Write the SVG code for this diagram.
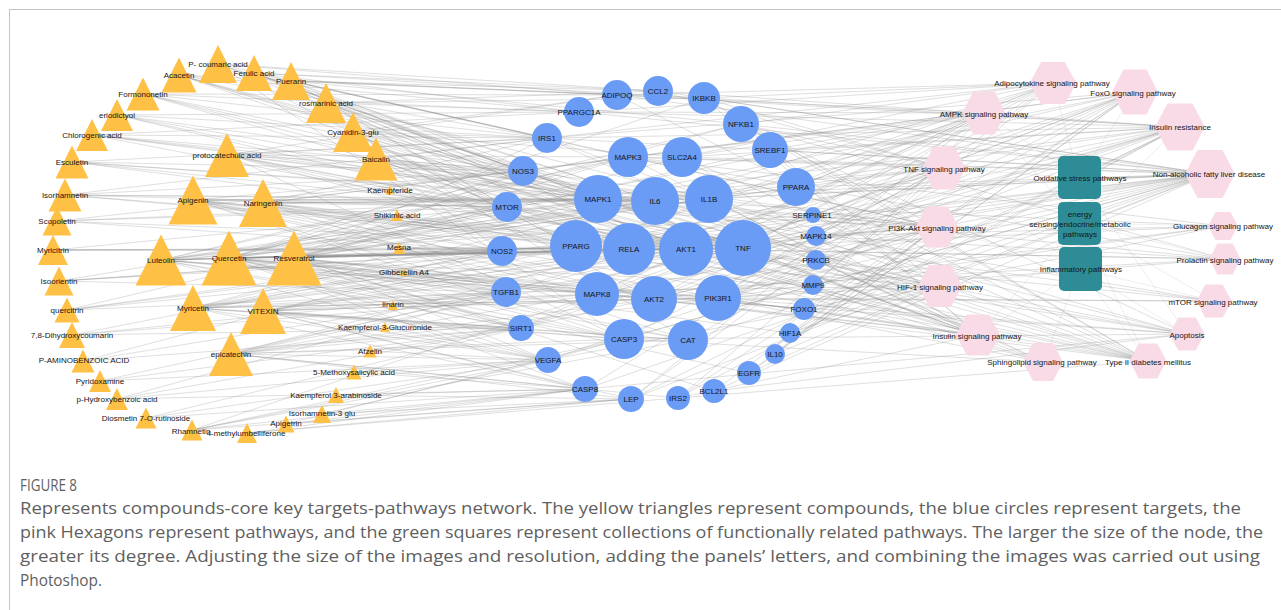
<svg xmlns="http://www.w3.org/2000/svg" width="1281" height="610" viewBox="0 0 1281 610">
<style>
.e{fill:none;stroke:#8a8a8a;stroke-opacity:.36;stroke-width:.75}
.e2{fill:none;stroke:#8a8a8a;stroke-opacity:.25;stroke-width:.6}
.tri{fill:#FFC145}
.tgt{fill:#6A9CF5}
.hex{fill:#F9DBE7}
.grp{fill:#2E8C97}
.l{font-family:"Liberation Sans",Arial,sans-serif;font-size:8px;text-anchor:middle;fill:#151515}
.cap{font-family:"Open Sans","Liberation Sans",sans-serif;font-size:16px;fill:#5f5f5f}
</style>
<rect width="1281" height="610" fill="#fff"/>
<path d="M9 9.5H1281M9.5 9V610" stroke="#c6c6c6" stroke-width="1" fill="none"/>
<g id="connectors">
<path class="e" d="M179 75 617 95M179 75 579 112M179 75 547 138M179 75 598 199M179 75 686 249M179 75 743 248M179 75 655 201M179 75 523 171"/>
<path class="e" d="M218 64 617 95M218 64 658 91M218 64 547 138M218 64 655 201M218 64 743 248M218 64 686 249M218 64 576 247M218 64 624 339"/>
<path class="e" d="M254 73 658 91M254 73 704 98M254 73 579 112M254 73 547 138M254 73 686 249M254 73 743 248M254 73 655 201M254 73 598 199M254 73 523 171"/>
<path class="e" d="M291 81 617 95M291 81 658 91M291 81 704 98M291 81 741 124M291 81 547 138M291 81 576 247M291 81 686 249M291 81 743 248M291 81 628 157"/>
<path class="e" d="M326 103 658 91M326 103 704 98M326 103 579 112M326 103 523 171M326 103 507 207M326 103 686 249M326 103 629 249M326 103 743 248M326 103 709 199"/>
<path class="e" d="M353 132 617 95M353 132 547 138M353 132 523 171M353 132 507 207M353 132 598 199M353 132 576 247M353 132 686 249M353 132 682 157M353 132 688 340"/>
<path class="e" d="M376 159 547 138M376 159 523 171M376 159 507 207M376 159 502 251M376 159 598 199M376 159 655 201M376 159 709 199M376 159 629 249M376 159 743 248M376 159 654 299"/>
<path class="e" d="M390 190 507 207M390 190 686 249M397 215 502 251M397 215 576 247M399 248 502 251M399 248 506 292M399 248 629 249M404 272 506 292M393 305 506 292M393 305 521 328M385 327 521 328M385 327 548 360M370 351 548 360M370 351 521 328M354 372 548 360M354 372 585 389M336 395 585 389M336 395 631 399M322 414 585 389M322 414 631 399M322 414 548 360M286 424 585 389M286 424 631 399M286 424 624 339M247 433 631 399M247 433 678 398M247 433 585 389"/>
<path class="e" d="M192 430 548 360M192 430 585 389M192 430 631 399M192 430 624 339M192 430 688 340M192 430 597 294M146 418 548 360M146 418 585 389M146 418 521 328M117 399 521 328M117 399 548 360M117 399 585 389M117 399 506 292M100 381 521 328M100 381 506 292M100 381 548 360M83 361 506 292M83 361 502 251M83 361 521 328M72 335 506 292M72 335 502 251M72 335 521 328M72 335 597 294"/>
<path class="e" d="M67 310 506 292M67 310 502 251M67 310 507 207M67 310 576 247M67 310 686 249M59 281 502 251M59 281 506 292M59 281 507 207M59 281 576 247M59 281 629 249M53 250 502 251M53 250 507 207M53 250 576 247M53 250 686 249M53 250 743 248M57 221 507 207M57 221 502 251M57 221 523 171M57 221 598 199M57 221 743 248"/>
<path class="e" d="M65 195 507 207M65 195 523 171M65 195 547 138M65 195 598 199M65 195 655 201M65 195 686 249M65 195 743 248M72 162 523 171M72 162 547 138M72 162 507 207M72 162 598 199M72 162 655 201M72 162 743 248M92 135 547 138M92 135 523 171M92 135 579 112M92 135 598 199M92 135 655 201M92 135 709 199M92 135 686 249"/>
<path class="e" d="M117 115 579 112M117 115 547 138M117 115 523 171M117 115 598 199M117 115 686 249M117 115 743 248M143 94 617 95M143 94 579 112M143 94 547 138M143 94 523 171M143 94 598 199M143 94 686 249M143 94 743 248"/>
<path class="e" d="M227 155 617 95M227 155 547 138M227 155 523 171M227 155 507 207M227 155 598 199M227 155 628 157M227 155 655 201M227 155 686 249M227 155 743 248M227 155 576 247M227 155 629 249M227 155 624 339"/>
<path class="e" d="M193 200 523 171M193 200 507 207M193 200 502 251M193 200 506 292M193 200 598 199M193 200 655 201M193 200 709 199M193 200 576 247M193 200 629 249M193 200 686 249M193 200 743 248M193 200 597 294M193 200 654 299M193 200 624 339M193 200 718 298"/>
<path class="e" d="M263 203 547 138M263 203 523 171M263 203 507 207M263 203 502 251M263 203 598 199M263 203 628 157M263 203 655 201M263 203 709 199M263 203 576 247M263 203 629 249M263 203 686 249M263 203 743 248M263 203 654 299M263 203 688 340"/>
<path class="e" d="M161 260 507 207M161 260 502 251M161 260 506 292M161 260 521 328M161 260 598 199M161 260 628 157M161 260 655 201M161 260 709 199M161 260 576 247M161 260 629 249M161 260 686 249M161 260 743 248M161 260 597 294M161 260 654 299M161 260 718 298M161 260 624 339M161 260 548 360M161 260 813 215M161 260 741 124"/>
<path class="e" d="M229 258 523 171M229 258 507 207M229 258 502 251M229 258 506 292M229 258 521 328M229 258 548 360M229 258 585 389M229 258 598 199M229 258 628 157M229 258 655 201M229 258 709 199M229 258 576 247M229 258 629 249M229 258 686 249M229 258 743 248M229 258 597 294M229 258 654 299M229 258 718 298M229 258 624 339M229 258 688 340M229 258 741 124M229 258 704 98M229 258 790 333M229 258 749 373M229 258 813 285M229 258 804 309"/>
<path class="e" d="M294 258 547 138M294 258 523 171M294 258 507 207M294 258 502 251M294 258 506 292M294 258 521 328M294 258 548 360M294 258 598 199M294 258 628 157M294 258 682 157M294 258 655 201M294 258 709 199M294 258 576 247M294 258 629 249M294 258 686 249M294 258 743 248M294 258 597 294M294 258 654 299M294 258 718 298M294 258 624 339M294 258 688 340M294 258 770 150M294 258 796 187M294 258 804 309M294 258 714 391"/>
<path class="e" d="M193 308 502 251M193 308 506 292M193 308 521 328M193 308 548 360M193 308 585 389M193 308 598 199M193 308 655 201M193 308 576 247M193 308 629 249M193 308 686 249M193 308 743 248M193 308 597 294M193 308 654 299M193 308 718 298M193 308 624 339M193 308 688 340"/>
<path class="e" d="M263 311 506 292M263 311 521 328M263 311 548 360M263 311 585 389M263 311 631 399M263 311 576 247M263 311 629 249M263 311 686 249M263 311 743 248M263 311 597 294M263 311 654 299M263 311 718 298M263 311 624 339M263 311 688 340"/>
<path class="e" d="M231 354 521 328M231 354 548 360M231 354 585 389M231 354 631 399M231 354 678 398M231 354 597 294M231 354 654 299M231 354 624 339M231 354 688 340M231 354 629 249M231 354 686 249M231 354 743 248M231 354 718 298"/>
<path class="e" d="M617 95 1053 83M617 95 984 113M617 95 1180 127M617 95 1210 174M617 95 1148 361M658 91 944 168M658 91 1210 174M658 91 1180 127M704 98 1053 83M704 98 944 168M704 98 1180 127M704 98 978 335M704 98 1210 174M704 98 1148 361"/>
<path class="e" d="M741 124 1053 83M741 124 944 168M741 124 937 227M741 124 1187 334M741 124 1210 174M741 124 1148 361M741 124 1225 259M741 124 940 286M770 150 984 113M770 150 1180 127M770 150 1210 174M770 150 978 335M796 187 1053 83M796 187 984 113M796 187 1210 174"/>
<path class="e" d="M813 215 940 286M813 215 1135 92M816 236 944 168M816 236 937 227M816 236 1225 259M816 236 1223 226M816 260 978 335M816 260 937 227M816 260 1043 362M813 285 944 168M804 309 1135 92M804 309 984 113M804 309 1180 127M804 309 978 335M804 309 1223 226"/>
<path class="e" d="M790 333 940 286M790 333 1180 127M790 333 1210 174M790 333 937 227M775 354 937 227M775 354 940 286M775 354 1135 92M749 373 937 227M749 373 940 286M749 373 1135 92M714 391 937 227M714 391 1187 334M714 391 1210 174"/>
<path class="e" d="M678 398 1180 127M678 398 978 335M678 398 1148 361M678 398 1135 92M678 398 1053 83M631 399 1053 83M631 399 984 113M631 399 1180 127M631 399 1210 174M585 389 1187 334M585 389 944 168M585 389 1210 174M548 360 937 227M548 360 940 286M548 360 1210 174"/>
<path class="e" d="M521 328 1135 92M521 328 984 113M521 328 1180 127M521 328 1210 174M506 292 1210 174M506 292 1135 92M506 292 940 286M502 251 940 286M502 251 1148 361M502 251 1210 174"/>
<path class="e" d="M507 207 984 113M507 207 1180 127M507 207 978 335M507 207 1214 301M507 207 937 227M507 207 940 286M523 171 937 227M523 171 940 286M523 171 978 335M523 171 1148 361M523 171 984 113M523 171 1135 92"/>
<path class="e" d="M547 138 1180 127M547 138 978 335M547 138 937 227M547 138 1135 92M547 138 1148 361M547 138 1210 174M547 138 1053 83M579 112 984 113M579 112 1053 83M579 112 1210 174M579 112 1180 127"/>
<path class="e" d="M628 157 944 168M628 157 978 335M628 157 937 227M628 157 1135 92M628 157 1225 259M628 157 1210 174M628 157 1223 226M682 157 1053 83M682 157 1180 127M682 157 978 335M682 157 1210 174M682 157 1148 361M682 157 984 113"/>
<path class="e" d="M598 199 944 168M598 199 978 335M598 199 937 227M598 199 1135 92M598 199 1225 259M598 199 1210 174M598 199 1223 226M598 199 1214 301M598 199 940 286M655 201 944 168M655 201 937 227M655 201 1053 83M655 201 1180 127M655 201 1210 174M655 201 1135 92M655 201 1187 334M655 201 1148 361"/>
<path class="e" d="M709 199 944 168M709 199 1210 174M709 199 1187 334M709 199 1043 362M709 199 937 227M576 247 1053 83M576 247 984 113M576 247 1180 127M576 247 1210 174M576 247 1148 361M576 247 1225 259"/>
<path class="e" d="M629 249 944 168M629 249 937 227M629 249 1053 83M629 249 1210 174M629 249 1187 334M629 249 1043 362M629 249 1148 361M686 249 937 227M686 249 978 335M686 249 1135 92M686 249 984 113M686 249 1214 301M686 249 940 286M686 249 1180 127M686 249 1210 174M686 249 1187 334M686 249 1043 362M686 249 1223 226M686 249 1148 361M686 249 1225 259"/>
<path class="e" d="M743 248 944 168M743 248 1053 83M743 248 1180 127M743 248 1210 174M743 248 1187 334M743 248 1043 362M743 248 1148 361M743 248 978 335M597 294 944 168M597 294 978 335M597 294 1053 83M597 294 1180 127M597 294 1210 174M597 294 1225 259M597 294 1187 334"/>
<path class="e" d="M654 299 937 227M654 299 978 335M654 299 1135 92M654 299 984 113M654 299 1214 301M654 299 1180 127M654 299 1223 226M654 299 1148 361M718 298 937 227M718 298 978 335M718 298 1135 92M718 298 984 113M718 298 1214 301M718 298 940 286M718 298 1053 83M718 298 1180 127M718 298 1210 174M718 298 1187 334M718 298 1043 362M718 298 1223 226M718 298 1148 361M718 298 1225 259"/>
<path class="e" d="M624 339 1187 334M624 339 944 168M624 339 1210 174M624 339 1043 362M688 340 1135 92M688 340 1210 174"/>
<path class="e2" d="M1079 178 1053 83M1079 178 1135 92M1079 178 984 113M1079 178 944 168M1079 178 1210 174M1079 178 1180 127M1079 178 1187 334M1079 223 984 113M1079 223 1180 127M1079 223 978 335M1079 223 1223 226M1079 223 1214 301M1079 223 1225 259M1079 223 1148 361M1079 223 937 227M1080 269 944 168M1080 269 1043 362M1080 269 1148 361M1080 269 940 286M1080 269 937 227M1080 269 1187 334M1080 269 978 335M1080 269 1214 301"/>
</g>
<g id="compounds">
<g id="c-acacetin"><polygon class="tri" points="179,57.5 196.5,92.5 161.5,92.5"/><text class="l" x="179" y="78">Acacetin</text></g>
<g id="c-p-coumaric-acid"><polygon class="tri" points="218,45 237,83 199,83"/><text class="l" x="218" y="67">P- coumaric acid</text></g>
<g id="c-ferulic-acid"><polygon class="tri" points="254,55 272,91 236,91"/><text class="l" x="254" y="76">Ferulic acid</text></g>
<g id="c-puerarin"><polygon class="tri" points="291,62 310,100 272,100"/><text class="l" x="291" y="84">Puerarin</text></g>
<g id="c-rosmarinic-acid"><polygon class="tri" points="326,83 346,123 306,123"/><text class="l" x="326" y="106">rosmarinic acid</text></g>
<g id="c-cyanidin"><polygon class="tri" points="353,112 373,152 333,152"/><text class="l" x="353" y="135">Cyanidin-3-glu</text></g>
<g id="c-baicalin"><polygon class="tri" points="376,137.5 397.5,180.5 354.5,180.5"/><text class="l" x="376" y="162">Baicalin</text></g>
<g id="c-kaempferide"><polygon class="tri" points="390,185.5 394.5,194.5 385.5,194.5"/><text class="l" x="390" y="193">Kaempferide</text></g>
<g id="c-shikimic-acid"><polygon class="tri" points="397,209 403,221 391,221"/><text class="l" x="397" y="218">Shikimic acid</text></g>
<g id="c-mesna"><polygon class="tri" points="399,242 405,254 393,254"/><text class="l" x="399" y="250">Mesna</text></g>
<g id="c-gibberellin"><polygon class="tri" points="404,268 408,276 400,276"/><text class="l" x="404" y="275">Gibberellin A4</text></g>
<g id="c-linarin"><polygon class="tri" points="393,300 398,310 388,310"/><text class="l" x="393" y="307">linarin</text></g>
<g id="c-k3gluc"><polygon class="tri" points="385,322 390,332 380,332"/><text class="l" x="385" y="330">Kaempferol-3-Glucuronide</text></g>
<g id="c-afzelin"><polygon class="tri" points="370,344.5 376.5,357.5 363.5,357.5"/><text class="l" x="370" y="354">Afzelin</text></g>
<g id="c-5-methoxysalicylic"><polygon class="tri" points="354,364.5 361.5,379.5 346.5,379.5"/><text class="l" x="354" y="375">5-Methoxysalicylic acid</text></g>
<g id="c-k3arab"><polygon class="tri" points="336,387 344,403 328,403"/><text class="l" x="336" y="398">Kaempferol 3-arabinoside</text></g>
<g id="c-isorh3glu"><polygon class="tri" points="322,405 331,423 313,423"/><text class="l" x="322" y="416">Isorhamnetin-3 glu</text></g>
<g id="c-apigetrin"><polygon class="tri" points="286,415.5 294.5,432.5 277.5,432.5"/><text class="l" x="286" y="426">Apigetrin</text></g>
<g id="c-4-methylumbelliferone"><polygon class="tri" points="247,423 257,443 237,443"/><text class="l" x="246" y="436">4-methylumbelliferone</text></g>
<g id="c-rhamnetin"><polygon class="tri" points="192,419.5 202.5,440.5 181.5,440.5"/><text class="l" x="191" y="434">Rhamnetin</text></g>
<g id="c-diosmetin"><polygon class="tri" points="146,407.5 156.5,428.5 135.5,428.5"/><text class="l" x="146" y="421">Diosmetin 7-O-rutinoside</text></g>
<g id="c-p-hydroxybenzoic"><polygon class="tri" points="117,388 128,410 106,410"/><text class="l" x="117" y="402">p-Hydroxybenzoic acid</text></g>
<g id="c-pyridoxamine"><polygon class="tri" points="100,370 111,392 89,392"/><text class="l" x="100" y="384">Pyridoxamine</text></g>
<g id="c-paba"><polygon class="tri" points="83,349.5 94.5,372.5 71.5,372.5"/><text class="l" x="84" y="363">P-AMINOBENZOIC ACID</text></g>
<g id="c-78-dihydroxycoumarin"><polygon class="tri" points="72,322 85,348 59,348"/><text class="l" x="72" y="338">7,8-Dihydroxycoumarin</text></g>
<g id="c-quercitrin"><polygon class="tri" points="67,297.5 79.5,322.5 54.5,322.5"/><text class="l" x="67" y="313">quercitrin</text></g>
<g id="c-isoorientin"><polygon class="tri" points="59,266.5 73.5,295.5 44.5,295.5"/><text class="l" x="59" y="284">Isoorientin</text></g>
<g id="c-myricitrin"><polygon class="tri" points="53,235 68,265 38,265"/><text class="l" x="53" y="253">Myricitrin</text></g>
<g id="c-scopoletin"><polygon class="tri" points="57,206.5 71.5,235.5 42.5,235.5"/><text class="l" x="57" y="224">Scopoletin</text></g>
<g id="c-isorhamnetin"><polygon class="tri" points="65,178.5 81.5,211.5 48.5,211.5"/><text class="l" x="65" y="198">Isorhamnetin</text></g>
<g id="c-esculetin"><polygon class="tri" points="72,145.5 88.5,178.5 55.5,178.5"/><text class="l" x="72" y="165">Esculetin</text></g>
<g id="c-chlorogenic-acid"><polygon class="tri" points="92,119 108,151 76,151"/><text class="l" x="92" y="138">Chlorogenic acid</text></g>
<g id="c-eriodictyol"><polygon class="tri" points="117,99 133,131 101,131"/><text class="l" x="117" y="118">eriodictyol</text></g>
<g id="c-formononetin"><polygon class="tri" points="143,77.5 159.5,110.5 126.5,110.5"/><text class="l" x="143" y="97">Formononetin</text></g>
<g id="c-protocatechuic-acid"><polygon class="tri" points="227,133 249,177 205,177"/><text class="l" x="227" y="158">protocatechuic acid</text></g>
<g id="c-apigenin"><polygon class="tri" points="193,175.5 217.5,224.5 168.5,224.5"/><text class="l" x="193" y="203">Apigenin</text></g>
<g id="c-naringenin"><polygon class="tri" points="263,179 287,227 239,227"/><text class="l" x="263" y="206">Naringenin</text></g>
<g id="c-luteolin"><polygon class="tri" points="161,234.5 186.5,285.5 135.5,285.5"/><text class="l" x="161" y="263">Luteolin</text></g>
<g id="c-quercetin"><polygon class="tri" points="229,230.5 256.5,285.5 201.5,285.5"/><text class="l" x="229" y="261">Quercetin</text></g>
<g id="c-resveratrol"><polygon class="tri" points="294,230.5 321.5,285.5 266.5,285.5"/><text class="l" x="294" y="261">Resveratrol</text></g>
<g id="c-myricetin"><polygon class="tri" points="193,285 216,331 170,331"/><text class="l" x="193" y="311">Myricetin</text></g>
<g id="c-vitexin"><polygon class="tri" points="263,288 286,334 240,334"/><text class="l" x="263" y="314">VITEXIN</text></g>
<g id="c-epicatechin"><polygon class="tri" points="231,332 253,376 209,376"/><text class="l" x="231" y="357">epicatechin</text></g>
</g>
<g id="targets">
<g id="t-adipoq"><circle class="tgt" cx="617" cy="95" r="15"/><text class="l" x="617" y="98">ADIPOQ</text></g>
<g id="t-ccl2"><circle class="tgt" cx="658" cy="91" r="15"/><text class="l" x="658" y="94">CCL2</text></g>
<g id="t-ikbkb"><circle class="tgt" cx="704" cy="98" r="16"/><text class="l" x="704" y="101">IKBKB</text></g>
<g id="t-nfkb1"><circle class="tgt" cx="741" cy="124" r="18"/><text class="l" x="741" y="127">NFKB1</text></g>
<g id="t-srebf1"><circle class="tgt" cx="770" cy="150" r="18"/><text class="l" x="770" y="153">SREBF1</text></g>
<g id="t-ppara"><circle class="tgt" cx="796" cy="187" r="19"/><text class="l" x="796" y="190">PPARA</text></g>
<g id="t-serpine1"><circle class="tgt" cx="813" cy="215" r="8"/><text class="l" x="812" y="218">SERPINE1</text></g>
<g id="t-mapk14"><circle class="tgt" cx="816" cy="236" r="10"/><text class="l" x="816" y="239">MAPK14</text></g>
<g id="t-prkcb"><circle class="tgt" cx="816" cy="260" r="10"/><text class="l" x="816" y="263">PRKCB</text></g>
<g id="t-mmp9"><circle class="tgt" cx="813" cy="285" r="10"/><text class="l" x="813" y="288">MMP9</text></g>
<g id="t-foxo1"><circle class="tgt" cx="804" cy="309" r="11"/><text class="l" x="804" y="312">FOXO1</text></g>
<g id="t-hif1a"><circle class="tgt" cx="790" cy="333" r="10"/><text class="l" x="790" y="336">HIF1A</text></g>
<g id="t-il10"><circle class="tgt" cx="775" cy="354" r="10"/><text class="l" x="775" y="357">IL10</text></g>
<g id="t-egfr"><circle class="tgt" cx="749" cy="373" r="12"/><text class="l" x="749" y="376">EGFR</text></g>
<g id="t-bcl2l1"><circle class="tgt" cx="714" cy="391" r="12"/><text class="l" x="714" y="394">BCL2L1</text></g>
<g id="t-irs2"><circle class="tgt" cx="678" cy="398" r="12"/><text class="l" x="678" y="401">IRS2</text></g>
<g id="t-lep"><circle class="tgt" cx="631" cy="399" r="13"/><text class="l" x="631" y="402">LEP</text></g>
<g id="t-casp8"><circle class="tgt" cx="585" cy="389" r="13"/><text class="l" x="585" y="392">CASP8</text></g>
<g id="t-vegfa"><circle class="tgt" cx="548" cy="360" r="13"/><text class="l" x="548" y="363">VEGFA</text></g>
<g id="t-sirt1"><circle class="tgt" cx="521" cy="328" r="13"/><text class="l" x="521" y="331">SIRT1</text></g>
<g id="t-tgfb1"><circle class="tgt" cx="506" cy="292" r="15"/><text class="l" x="506" y="295">TGFB1</text></g>
<g id="t-nos2"><circle class="tgt" cx="502" cy="251" r="15"/><text class="l" x="502" y="254">NOS2</text></g>
<g id="t-mtor"><circle class="tgt" cx="507" cy="207" r="15"/><text class="l" x="507" y="210">MTOR</text></g>
<g id="t-nos3"><circle class="tgt" cx="523" cy="171" r="15"/><text class="l" x="523" y="174">NOS3</text></g>
<g id="t-irs1"><circle class="tgt" cx="547" cy="138" r="15"/><text class="l" x="547" y="141">IRS1</text></g>
<g id="t-ppargc1a"><circle class="tgt" cx="579" cy="112" r="15"/><text class="l" x="579" y="115">PPARGC1A</text></g>
<g id="t-mapk3"><circle class="tgt" cx="628" cy="157" r="20"/><text class="l" x="628" y="160">MAPK3</text></g>
<g id="t-slc2a4"><circle class="tgt" cx="682" cy="157" r="20"/><text class="l" x="682" y="160">SLC2A4</text></g>
<g id="t-mapk1"><circle class="tgt" cx="598" cy="199" r="24"/><text class="l" x="598" y="202">MAPK1</text></g>
<g id="t-il6"><circle class="tgt" cx="655" cy="201" r="24"/><text class="l" x="655" y="204">IL6</text></g>
<g id="t-il1b"><circle class="tgt" cx="709" cy="199" r="24"/><text class="l" x="709" y="202">IL1B</text></g>
<g id="t-pparg"><circle class="tgt" cx="576" cy="246" r="26"/><text class="l" x="576" y="249">PPARG</text></g>
<g id="t-rela"><circle class="tgt" cx="629" cy="249" r="26"/><text class="l" x="629" y="252">RELA</text></g>
<g id="t-akt1"><circle class="tgt" cx="686" cy="249" r="27"/><text class="l" x="686" y="252">AKT1</text></g>
<g id="t-tnf"><circle class="tgt" cx="743" cy="248" r="28"/><text class="l" x="743" y="251">TNF</text></g>
<g id="t-mapk8"><circle class="tgt" cx="597" cy="294" r="22"/><text class="l" x="597" y="297">MAPK8</text></g>
<g id="t-akt2"><circle class="tgt" cx="654" cy="299" r="23"/><text class="l" x="654" y="302">AKT2</text></g>
<g id="t-pik3r1"><circle class="tgt" cx="718" cy="298" r="23"/><text class="l" x="718" y="301">PIK3R1</text></g>
<g id="t-casp3"><circle class="tgt" cx="624" cy="339" r="20"/><text class="l" x="624" y="342">CASP3</text></g>
<g id="t-cat"><circle class="tgt" cx="688" cy="340" r="20"/><text class="l" x="688" y="343">CAT</text></g>
</g>
<g id="pathways">
<g id="p-adipocytokine"><polygon class="hex" points="1029.5,83 1041.25,62 1064.75,62 1076.5,83 1064.75,104 1041.25,104"/><text class="l" x="1052" y="86">Adipocytokine signaling pathway</text></g>
<g id="p-foxo"><polygon class="hex" points="1112,92 1123.5,69.5 1146.5,69.5 1158,92 1146.5,114.5 1123.5,114.5"/><text class="l" x="1133" y="96">FoxO signaling pathway</text></g>
<g id="p-ampk"><polygon class="hex" points="962.5,113 973.25,91.5 994.75,91.5 1005.5,113 994.75,134.5 973.25,134.5"/><text class="l" x="984" y="117">AMPK signaling pathway</text></g>
<g id="p-insulin-resistance"><polygon class="hex" points="1155,127 1167.5,103.5 1192.5,103.5 1205,127 1192.5,150.5 1167.5,150.5"/><text class="l" x="1180" y="130">Insulin resistance</text></g>
<g id="p-tnf"><polygon class="hex" points="922.5,168 933.25,146.5 954.75,146.5 965.5,168 954.75,189.5 933.25,189.5"/><text class="l" x="944" y="172">TNF signaling pathway</text></g>
<g id="p-nafld"><polygon class="hex" points="1185,174 1197.5,150 1222.5,150 1235,174 1222.5,198 1197.5,198"/><text class="l" x="1209" y="177">Non-alcoholic fatty liver disease</text></g>
<g id="p-pi3k-akt"><polygon class="hex" points="915.5,227 926.25,206.5 947.75,206.5 958.5,227 947.75,247.5 926.25,247.5"/><text class="l" x="937" y="231">PI3K-Akt signaling pathway</text></g>
<g id="p-glucagon"><polygon class="hex" points="1208,226 1215.5,212 1230.5,212 1238,226 1230.5,240 1215.5,240"/><text class="l" x="1223" y="229">Glucagon signaling pathway</text></g>
<g id="p-prolactin"><polygon class="hex" points="1209.5,259 1217.25,243.5 1232.75,243.5 1240.5,259 1232.75,274.5 1217.25,274.5"/><text class="l" x="1225" y="263">Prolactin signaling pathway</text></g>
<g id="p-hif1"><polygon class="hex" points="918,286 929,265 951,265 962,286 951,307 929,307"/><text class="l" x="940" y="290">HIF-1 signaling pathway</text></g>
<g id="p-mtor"><polygon class="hex" points="1196.5,301 1205.25,284.5 1222.75,284.5 1231.5,301 1222.75,317.5 1205.25,317.5"/><text class="l" x="1213" y="305">mTOR signaling pathway</text></g>
<g id="p-insulin-signaling"><polygon class="hex" points="956,335 967,314.5 989,314.5 1000,335 989,355.5 967,355.5"/><text class="l" x="977" y="339">Insulin signaling pathway</text></g>
<g id="p-apoptosis"><polygon class="hex" points="1169.5,334 1178.25,317.5 1195.75,317.5 1204.5,334 1195.75,350.5 1178.25,350.5"/><text class="l" x="1187" y="338">Apoptosis</text></g>
<g id="p-sphingolipid"><polygon class="hex" points="1023,362 1033,343 1053,343 1063,362 1053,381 1033,381"/><text class="l" x="1042" y="365">Sphingolipid signaling pathway</text></g>
<g id="p-t2dm"><polygon class="hex" points="1129.5,361 1138.75,343.5 1157.25,343.5 1166.5,361 1157.25,378.5 1138.75,378.5"/><text class="l" x="1148" y="365">Type II diabetes mellitus</text></g>
</g>
<g id="collections">
<g id="g-oxidative"><rect class="grp" x="1058" y="156" width="43" height="43" rx="5"/><text class="l" x="1080" y="181">Oxidative stress pathways</text></g>
<g id="g-energy"><rect class="grp" x="1058" y="202" width="43" height="43" rx="5"/><text class="l" x="1080" y="217">energy</text><text class="l" x="1080" y="227">sensing/endocrine/metabolic</text><text class="l" x="1080" y="237">pathways</text></g>
<g id="g-inflammatory"><rect class="grp" x="1059" y="247" width="43" height="44" rx="5"/><text class="l" x="1081" y="272">Inflammatory pathways</text></g>
</g>
<g id="caption">
<text class="cap" x="20" y="491" font-size="15" textLength="57" lengthAdjust="spacingAndGlyphs">FIGURE 8</text>
<text class="cap" x="20" y="514" textLength="1221" lengthAdjust="spacingAndGlyphs">Represents compounds-core key targets-pathways network. The yellow triangles represent compounds, the blue circles represent targets, the</text>
<text class="cap" x="20" y="538" textLength="1243" lengthAdjust="spacingAndGlyphs">pink Hexagons represent pathways, and the green squares represent collections of functionally related pathways. The larger the size of the node, the</text>
<text class="cap" x="20" y="562" textLength="1240" lengthAdjust="spacingAndGlyphs">greater its degree. Adjusting the size of the images and resolution, adding the panels’ letters, and combining the images was carried out using</text>
<text class="cap" x="20" y="586" textLength="82" lengthAdjust="spacingAndGlyphs">Photoshop.</text>
</g>
</svg>
